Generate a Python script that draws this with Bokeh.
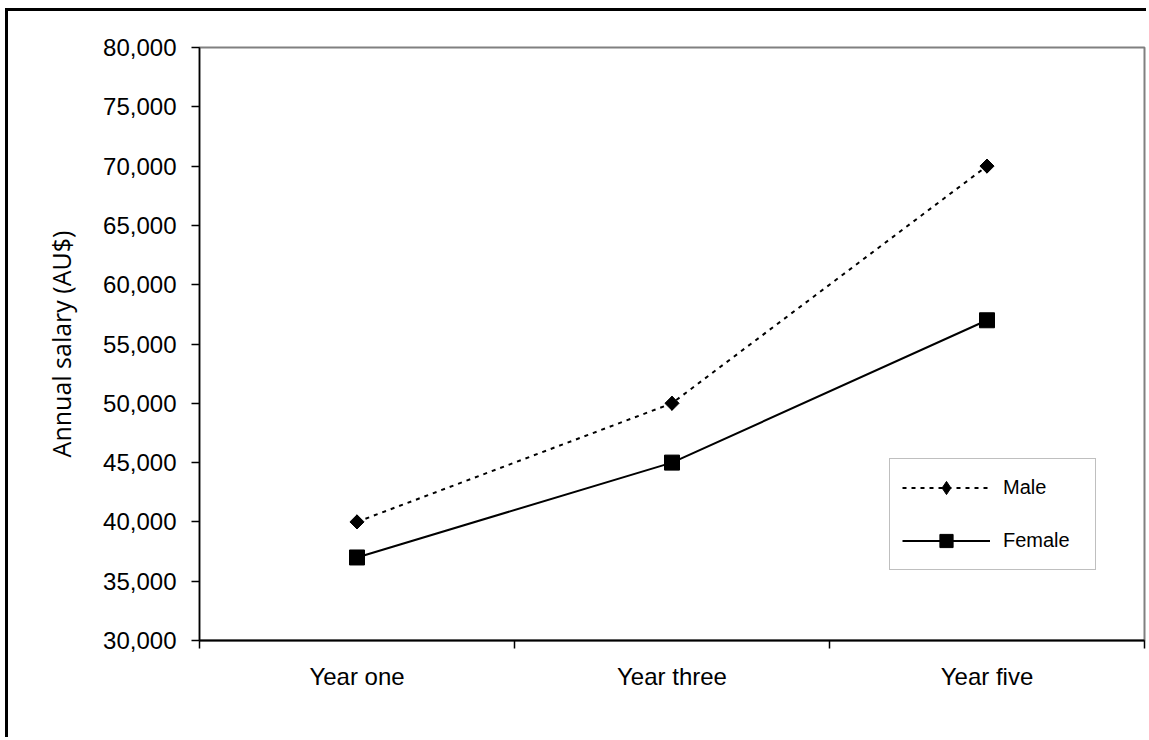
import math
from bokeh.plotting import figure
from bokeh.models import FixedTicker, NumeralTickFormatter, Range1d, Legend, LegendItem
from bokeh.embed import file_html
from bokeh.resources import INLINE

categories = ["Year one", "Year three", "Year five"]
male = [40000, 50000, 70000]
female = [37000, 45000, 57000]
y_ticks = [30000, 35000, 40000, 45000, 50000, 55000, 60000, 65000, 70000, 75000, 80000]
y_title = "Annual salary (AU$)"

x_pos = [i + 0.5 for i in range(len(categories))]
bounds = list(range(len(categories) + 1))

FONT = "Liberation Sans"

p = figure(width=1141, height=729, output_backend="svg", toolbar_location=None,
           x_range=Range1d(0, len(categories)), y_range=Range1d(y_ticks[0], y_ticks[-1]),
           min_border_left=191, min_border_top=36, min_border_right=5, min_border_bottom=100,
           background_fill_color="white", border_fill_color="white")
p.margin = (8, 0, 0, 5)
p.styles = {"border-top": "3px solid black", "border-left": "3px solid black"}

p.xgrid.visible = False
p.ygrid.visible = False
p.outline_line_color = "#808080"
p.outline_line_width = 2

xa = p.xaxis[0]
xa.ticker = FixedTicker(ticks=x_pos, minor_ticks=bounds)
xa.major_label_overrides = {x: c for x, c in zip(x_pos, categories)}
xa.major_tick_out = 0
xa.major_tick_in = 0
xa.minor_tick_out = 8
xa.minor_tick_in = 0
xa.minor_tick_line_color = "black"
xa.minor_tick_line_width = 1.5
xa.axis_line_color = "black"
xa.axis_line_width = 2
xa.major_label_text_font = FONT
xa.major_label_text_font_size = "24px"
xa.major_label_text_color = "black"
xa.major_label_standoff = 14

ya = p.yaxis[0]
ya.ticker = FixedTicker(ticks=y_ticks)
ya.formatter = NumeralTickFormatter(format="0,0")
ya.major_tick_out = 8
ya.major_tick_in = 0
ya.minor_tick_out = 0
ya.minor_tick_in = 0
ya.major_tick_line_color = "black"
ya.major_tick_line_width = 1.5
ya.axis_line_color = "black"
ya.axis_line_width = 1.5
ya.major_label_text_font = FONT
ya.major_label_text_font_size = "24px"
ya.major_label_text_color = "black"
ya.major_label_standoff = 15
ya.axis_label = y_title
ya.axis_label_text_font = "Open Sans"
ya.axis_label_text_font_size = "25px"
ya.axis_label_text_font_style = "normal"
ya.axis_label_text_color = "black"
ya.axis_label_standoff = 22

male_line = p.line(x_pos, male, line_color="black", line_width=2, line_dash="4 5")
# diamond glyph (also used as the legend symbol), covered by a rotated square
male_key = p.scatter(x_pos, male, marker="diamond", size=14,
                     fill_color="black", line_color="black")
male_pts = p.scatter(x_pos, male, marker="square", angle=math.pi / 4, size=10,
                     fill_color="black", line_color="black")
female_line = p.line(x_pos, female, line_color="black", line_width=2)
female_pts = p.scatter(x_pos, female, marker="square", size=15,
                       fill_color="black", line_color="black")

legend = Legend(items=[LegendItem(label="Male", renderers=[male_line, male_key]),
                       LegendItem(label="Female", renderers=[female_line, female_pts])],
                location=(690, 70), orientation="vertical",
                padding=12, spacing=20, glyph_width=88, glyph_height=33, label_height=33,
                label_width=80, label_standoff=13, label_text_font=FONT,
                label_text_font_size="20px", label_text_color="black",
                border_line_color="#808080", border_line_width=1.5,
                background_fill_color="white", background_fill_alpha=1.0)
p.add_layout(legend, "center")

open("out.html", "w").write(file_html(p, INLINE))
